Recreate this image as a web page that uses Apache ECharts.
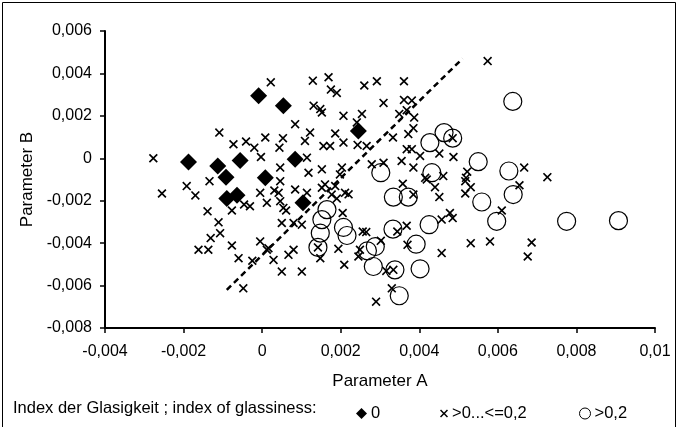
<!DOCTYPE html>
<html>
<head>
<meta charset="utf-8">
<script src="https://cdn.jsdelivr.net/npm/echarts@6/dist/echarts.min.js"></script>
<style>
  html, body { margin: 0; padding: 0; background: #fff; }
  #chart { width: 678px; height: 427px; }
</style>
</head>
<body>
<div id="chart"></div>
<script>
// Index der Glasigkeit = 0
var diamondPoints = [
    [-0.001875, -0.00018], [-0.00113, -0.00036], [-0.00056, -0.00010], [-0.00092, -0.00089],
    [0.00008, -0.00092], [-0.00009, 0.00295], [0.00054, 0.00248], [0.00084, -0.00005],
    [0.00245, 0.00129], [-0.00090, -0.00190], [-0.00064, -0.00174], [0.00104, -0.00210]
];
// Index > 0 ... <= 0,2
var crossPoints = [
    [-0.00277, 0.00000], [-0.00109, 0.00121], [-0.00073, 0.00066], [-0.00041, 0.00079],
    [-0.00020, 0.00050], [0.00008, 0.00098], [-0.00003, 0.00006], [0.00022, 0.00358],
    [-0.00255, -0.00166], [-0.00192, -0.00131], [-0.00170, -0.00175], [-0.00134, -0.00108],
    [-0.00139, -0.00250], [-0.00111, -0.00302], [-0.00107, -0.00353], [-0.00131, -0.00376],
    [-0.00162, -0.00431], [-0.00137, -0.00431], [-0.00077, -0.00411], [-0.00060, -0.00471],
    [-0.00077, -0.00246], [-0.00046, -0.00218], [-0.00031, -0.00226], [-0.00005, -0.00163],
    [0.00012, -0.00210], [-0.00005, -0.00392], [0.00012, -0.00431], [-0.00025, -0.00483],
    [-0.00048, -0.00613], [0.00129, 0.00366], [0.00169, 0.00382], [0.00175, 0.00324],
    [0.00190, 0.00308], [0.00260, 0.00343], [0.00292, 0.00363], [0.00361, 0.00363],
    [0.00309, 0.00261], [0.00361, 0.00275], [0.00381, 0.00272], [0.00368, 0.00227],
    [0.00349, 0.00209], [0.00387, 0.00192], [0.00385, 0.00142], [0.00372, 0.00114],
    [0.00333, 0.00098], [0.00131, 0.00248], [0.00148, 0.00232], [0.00152, 0.00216],
    [0.00207, 0.00200], [0.00254, 0.00209], [0.00241, 0.00169], [0.00084, 0.00161],
    [0.00122, 0.00121], [0.00053, 0.00095], [0.00044, 0.00050], [0.00109, 0.00082],
    [0.00186, 0.00117], [0.00207, 0.00074], [0.00156, 0.00058], [0.00173, 0.00058],
    [0.00243, 0.00063], [0.00266, 0.00058], [0.00114, 0.00003], [0.00046, -0.00044],
    [0.00118, -0.00068], [0.00152, -0.00052], [0.00203, -0.00044], [0.00198, -0.00076],
    [0.00279, -0.00028], [0.00309, -0.00021], [0.00355, -0.00013], [0.00385, -0.00044],
    [0.00368, 0.00043], [0.00381, 0.00043], [0.00402, 0.00011], [0.00415, -0.00092],
    [0.00574, 0.00458], [0.00485, 0.00095], [0.00451, 0.00022], [0.00487, 0.00006],
    [0.00667, -0.00044], [0.00726, -0.00089], [0.00461, -0.00084], [0.00522, -0.00063],
    [0.00519, -0.00092], [0.00517, -0.00108], [0.00531, -0.00136], [0.00517, -0.00166],
    [0.00440, -0.00136], [0.00451, -0.00183], [0.00655, -0.00127], [0.00610, -0.00246],
    [0.00478, -0.00258], [0.00485, -0.00282], [0.00457, -0.00289], [0.00531, -0.00400],
    [0.00580, -0.00392], [0.00686, -0.00397], [0.00676, -0.00463], [0.00457, -0.00447],
    [0.00419, -0.00100], [0.00358, -0.00120], [0.00385, -0.00171], [0.00344, -0.00345],
    [0.00368, -0.00318], [0.00370, -0.00408], [0.00334, -0.00526], [0.00316, -0.00531],
    [0.00249, -0.00431], [0.00245, -0.00463], [0.00302, -0.00389], [0.00256, -0.00345],
    [0.00265, -0.00348], [0.00330, -0.00613], [0.00290, -0.00676], [0.00209, -0.00502],
    [0.00194, -0.00427], [0.00205, -0.00258], [0.00190, -0.00190], [0.00211, -0.00163],
    [0.00177, -0.00171], [0.00186, -0.00131], [0.00160, -0.00123], [0.00152, -0.00139],
    [0.00142, -0.00420], [0.00148, -0.00471], [0.00101, -0.00534], [0.00050, -0.00534],
    [0.00080, -0.00431], [0.00067, -0.00455], [0.00029, -0.00479], [0.00016, -0.00424],
    [0.00050, -0.00305], [0.00101, -0.00313], [0.00080, -0.00305], [0.00046, -0.00202],
    [0.00054, -0.00234], [0.00061, -0.00246], [0.00046, -0.00108], [0.00031, -0.00152],
    [0.00042, -0.00163], [0.00084, -0.00147], [0.00114, -0.00163], [0.00220, -0.00170]
];
// Index > 0,2
var circlePoints = [
    [0.00427, 0.00074], [0.00302, -0.00068], [0.00432, -0.00068], [0.00638, 0.00268],
    [0.00463, 0.00121], [0.00485, 0.00095], [0.00550, -0.00016], [0.00628, -0.00060],
    [0.00639, -0.00171], [0.00559, -0.00206], [0.00597, -0.00297], [0.00775, -0.00297],
    [0.00907, -0.00294], [0.00425, -0.00313], [0.00334, -0.00183], [0.00372, -0.00183],
    [0.00333, -0.00334], [0.00392, -0.00405], [0.00402, -0.00521], [0.00338, -0.00526],
    [0.00283, -0.00510], [0.00288, -0.00416], [0.00268, -0.00436], [0.00349, -0.00648],
    [0.00207, -0.00326], [0.00216, -0.00364], [0.00165, -0.00242], [0.00152, -0.00289],
    [0.00148, -0.00353], [0.00142, -0.00420]
];
// gestrichelte Trennlinie
var dividerLine = [[-0.0009, -0.0062], [0.0051, 0.0047]];

var seriesNames = ['0', '>0...<=0,2', '>0,2'];
var legendTitle = 'Index der Glasigkeit ; index of glassiness:';

var crossSymbol = 'path://M0,1.3L1.3,0L5,3.7L8.7,0L10,1.3L6.3,5L10,8.7L8.7,10L5,6.3L1.3,10L0,8.7L3.7,5Z';
var font = 'Liberation Sans, Arial, sans-serif';

function fmt(v) {
    if (Math.abs(v) < 1e-9) return '0';
    return String(+v.toFixed(4)).replace('.', ',');
}

var legendText = { fontSize: 16.5, color: '#000', fontFamily: font, padding: [0, 0, 0, -1] };

var chart = echarts.init(document.getElementById('chart'));
var option = {
    animation: false,
    backgroundColor: '#fff',
    textStyle: { fontFamily: font, color: '#000' },
    grid: { left: 105, right: 23, top: 31, bottom: 99 },
    xAxis: {
        type: 'value',
        min: -0.004, max: 0.01, interval: 0.002,
        name: 'Parameter A',
        nameLocation: 'middle',
        nameGap: 45,
        nameTextStyle: { fontSize: 17, color: '#000', fontFamily: font },
        axisLine: { onZero: false, lineStyle: { color: '#000', width: 2 } },
        axisTick: { show: true, length: 5, lineStyle: { color: '#000', width: 1.5 } },
        axisLabel: { formatter: fmt, color: '#000', fontSize: 16, margin: 16, fontFamily: font },
        splitLine: { show: false }
    },
    yAxis: {
        type: 'value',
        min: -0.008, max: 0.006, interval: 0.002,
        name: 'Parameter B',
        nameLocation: 'middle',
        nameGap: 62,
        nameTextStyle: { fontSize: 17, color: '#000', fontFamily: font },
        axisLine: { onZero: false, lineStyle: { color: '#000', width: 2 } },
        axisTick: { show: true, length: 5, lineStyle: { color: '#000', width: 1.5 } },
        axisLabel: { formatter: fmt, color: '#000', fontSize: 16, margin: 13, fontFamily: font },
        splitLine: { show: false }
    },
    legend: [
        {
            data: [{ name: seriesNames[0], icon: 'diamond' }],
            left: 351, top: 400, itemWidth: 11, itemHeight: 11, itemGap: 4,
            textStyle: legendText
        },
        {
            data: [{ name: seriesNames[1], icon: crossSymbol }],
            left: 435, top: 400, itemWidth: 8, itemHeight: 8,
            textStyle: legendText
        },
        {
            data: [{ name: seriesNames[2], icon: 'circle' }],
            left: 574, top: 400, itemWidth: 11, itemHeight: 11,
            itemStyle: { color: '#fff', borderColor: '#000', borderWidth: 1 },
            textStyle: legendText
        }
    ],
    graphic: [
        {
            type: 'rect',
            shape: { x: 2.5, y: 2.5, width: 673, height: 440 },
            style: { fill: 'none', stroke: '#000', lineWidth: 1 },
            silent: true
        },
        {
            type: 'text',
            left: 13, top: 400,
            style: { text: legendTitle, fontSize: 16.5, fontFamily: font, fill: '#000' }
        }
    ],
    series: [
        {
            name: seriesNames[1],
            type: 'scatter',
            symbol: crossSymbol,
            symbolSize: 9,
            itemStyle: { color: '#000', opacity: 1 },
            data: crossPoints,
            z: 2
        },
        {
            name: seriesNames[2],
            type: 'scatter',
            symbol: 'circle',
            symbolSize: 18,
            itemStyle: { color: 'rgba(0,0,0,0)', borderColor: '#000', borderWidth: 1.2, opacity: 1 },
            data: circlePoints,
            z: 3
        },
        {
            name: seriesNames[0],
            type: 'scatter',
            symbol: 'diamond',
            symbolSize: 17,
            itemStyle: { color: '#000', opacity: 1 },
            data: diamondPoints,
            z: 4
        },
        {
            type: 'line',
            data: dividerLine,
            symbol: 'none',
            silent: true,
            lineStyle: { color: '#000', width: 2.5, type: [6, 4] },
            z: 5
        }
    ]
};
chart.setOption(option);
</script>
</body>
</html>
